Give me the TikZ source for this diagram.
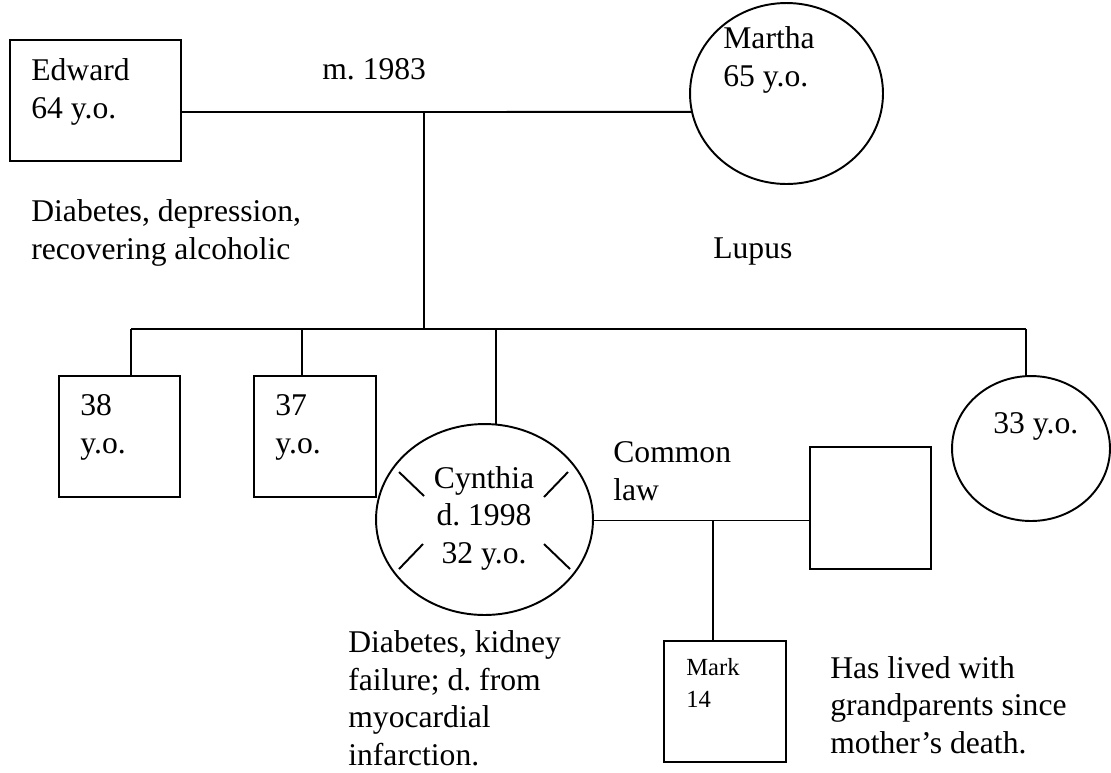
\documentclass[tikz,border=0pt]{standalone}
\usepackage{fontspec}
\setmainfont{Liberation Serif}
\usetikzlibrary{shapes.geometric}
\frenchspacing
\tikzset{
    person/.style={draw, line width=1.1pt, inner sep=0pt, outer sep=0pt},
    male/.style={person, rectangle},
    female/.style={person, ellipse},
    line/.style={line width=1.1pt},
    note/.style={anchor=base west, inner sep=0pt, align=left,
        font=\fontsize{18}{21.3}\selectfont},
    small note/.style={note, font=\fontsize{14}{18.2}\selectfont}
}

\begin{document}
\begin{tikzpicture}[x=0.02cm, y=-0.02cm]
    % Init
    \useasboundingbox (0, 0) rectangle (1111, 772);
    % 1. def persons
    \node[male, minimum width=3.42cm, minimum height=2.42cm] (edward) at (95.5, 100.5) {};
    \node[female, minimum width=3.86cm, minimum height=3.62cm] (martha) at (786.5, 93.5) {};
    \node[male, minimum width=2.42cm, minimum height=2.42cm] (sonA) at (119.5, 436.5) {};
    \node[male, minimum width=2.44cm, minimum height=2.42cm] (sonB) at (315, 436.5) {};
    \node[female, minimum width=4.34cm, minimum height=3.82cm] (cynthia) at (484.5, 519.5) {};
    \node[female, minimum width=3.16cm, minimum height=2.9cm] (daughter) at (1031, 448.5) {};
    \node[male, minimum width=2.42cm, minimum height=2.44cm] (partner) at (870.5, 508) {};
    \node[male, minimum width=2.44cm, minimum height=2.42cm] (mark) at (725, 701.5) {};
    % 2. def junctions
    \coordinate (wed) at (424, 112);
    \coordinate (sibs) at (424, 329);
    \coordinate (dropA) at (131, 329);
    \coordinate (dropB) at (302, 329);
    \coordinate (dropC) at (496, 329);
    \coordinate (dropD) at (1026, 329);
    \coordinate (union) at (713, 520.5);
    % 3. draw lines
    \draw[line] (edward.east |- wed) -- (wed) -- (martha.191);
    \draw[line] (wed) -- (sibs);
    \draw[line] (dropA) -- (dropD);
    \draw[line] (dropA) -- (dropA |- sonA.north);
    \draw[line] (dropB) -- (dropB |- sonB.north);
    \draw[line] (dropC) -- (dropC |- cynthia.north);
    \draw[line] (dropD) -- (dropD |- daughter.north);
    \draw[line] (cynthia.east |- union) -- (union) -- (union -| partner.west);
    \draw[line] (union) -- (union |- mark.north);
    % 4. mark deceased
    \draw[line] ([shift={(-85.5, -47.5)}]cynthia.center) -- ++(25, 24);
    \draw[line] ([shift={(59.5, -22.5)}]cynthia.center) -- ++(24, -25);
    \draw[line] ([shift={(-85.5, 49.5)}]cynthia.center) -- ++(24, -25);
    \draw[line] ([shift={(59.5, 24.5)}]cynthia.center) -- ++(26, 25);
    % 5. texts (anchored at last baseline)
    \node[note] (edwardtxt) at (31, 118) {Edward\\64 y.o.};
    \node[note] (wedtxt) at (322, 79) {m. 1983};
    \node[note] (marthatxt) at (723, 86) {Martha\\65 y.o.};
    \node[note] (edwardill) at (31, 259) {Diabetes, depression,\\recovering alcoholic};
    \node[note] (marthaill) at (713, 258) {Lupus};
    \node[note] (sonAtxt) at (80, 453) {38\\y.o.};
    \node[note] (sonBtxt) at (275, 453) {37\\y.o.};
    \node[note, anchor=base, align=center] (cynthiatxt) at (484, 563) {Cynthia\\d. 1998\\32 y.o.};
    \node[note] (daughtertxt) at (993, 433) {33 y.o.};
    \node[note] (uniontxt) at (613, 500) {Common\\law};
    \node[note] (cynthiaill) at (348, 765) {Diabetes, kidney\\failure; d. from\\myocardial\\infarction.};
    \node[small note] (marktxt) at (686, 707) {Mark\\14};
    \node[note] (markinfo) at (830, 753) {Has lived with\\grandparents since\\mother's death.};
\end{tikzpicture}
\end{document}
